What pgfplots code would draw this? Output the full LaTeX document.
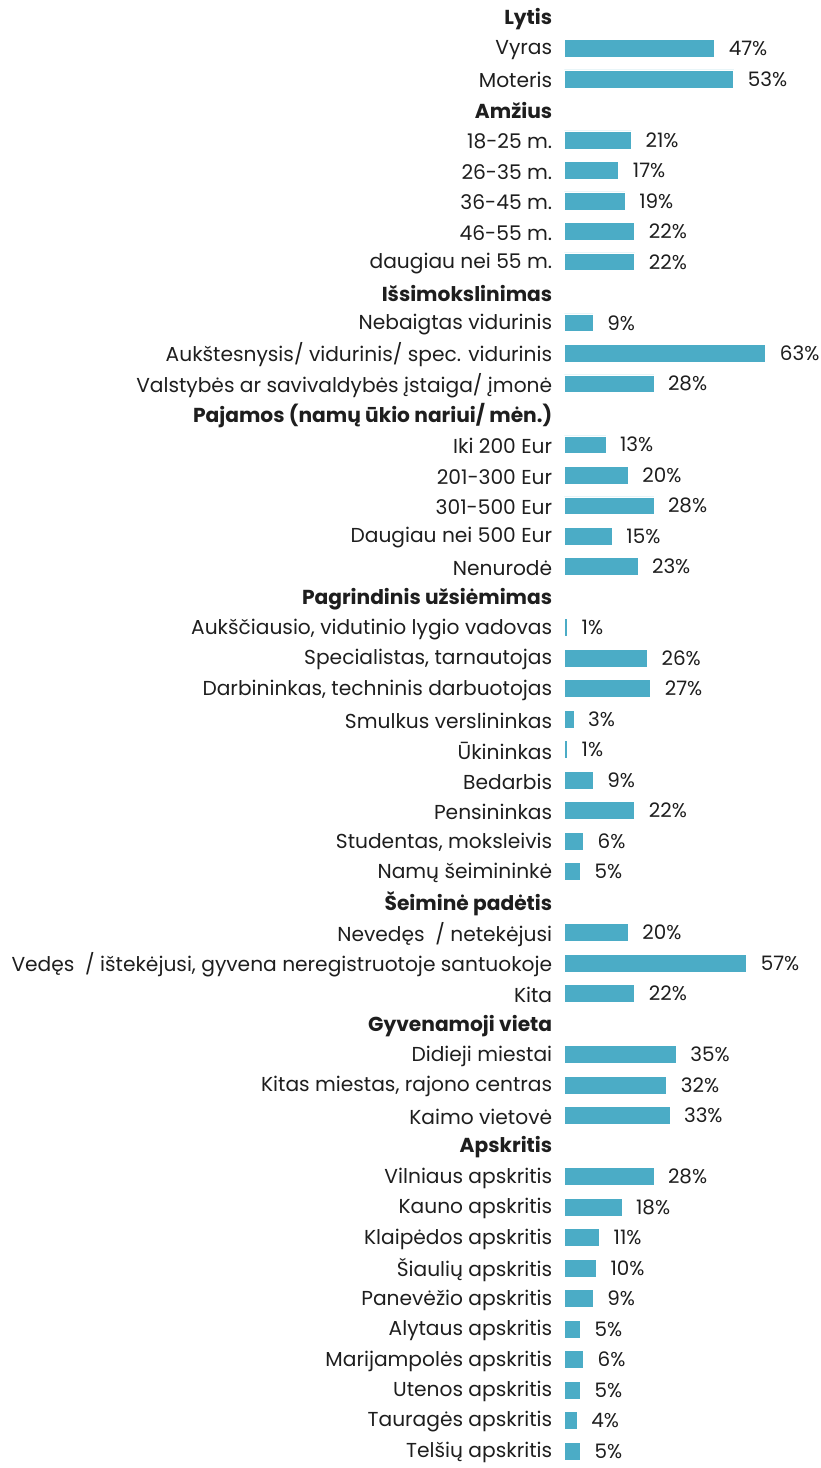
\documentclass[border=0pt]{standalone}
\usepackage{pgfplots}
\pgfplotsset{compat=1.18}
\usepackage{fontspec}
\setmainfont{Poppins}
\definecolor{barblue}{RGB}{75,172,198}
\definecolor{txt}{RGB}{30,30,30}
\begin{document}
\begin{tikzpicture}
\begin{axis}[
  scale only axis,
  width=257pt, height=1468pt,
  xmin=0, xmax=80,
  ymin=-0.587, ymax=47.33,
  y dir=reverse,
  xbar,
  axis line style={draw=none},
  tick style={draw=none},
  xtick=\empty,
  ytick={0,...,47},
  major tick length=0pt,
  /pgf/number format/assume math mode=true,
  yticklabel style={font=\fontsize{20.3}{24}\selectfont, text=txt, anchor=east, inner sep=0pt, xshift=-12pt, yshift=-1.5pt},
  yticklabels={
    {\textbf{Lytis}}, Vyras, Moteris,
    {\textbf{Amžius}}, 18-25 m., 26-35 m., 36-45 m., 46-55 m., daugiau nei 55 m.,
    {\textbf{Išsimokslinimas}}, Nebaigtas vidurinis, Aukštesnysis/ vidurinis/ spec. vidurinis, Valstybės ar savivaldybės įstaiga/ įmonė,
    {\textbf{Pajamos (namų ūkio nariui/ mėn.)}}, Iki 200 Eur, 201-300 Eur, 301-500 Eur, Daugiau nei 500 Eur, Nenurodė,
    {\textbf{Pagrindinis užsiėmimas}}, {Aukščiausio, vidutinio lygio vadovas}, {Specialistas, tarnautojas}, {Darbininkas, techninis darbuotojas}, Smulkus verslininkas, Ūkininkas, Bedarbis, Pensininkas, {Studentas, moksleivis}, Namų šeimininkė,
    {\textbf{Šeiminė padėtis}}, Nevedęs \ / netekėjusi, {Vedęs \ / ištekėjusi, gyvena neregistruotoje santuokoje}, Kita,
    {\textbf{Gyvenamoji vieta}}, Didieji miestai, {Kitas miestas, rajono centras}, Kaimo vietovė,
    {\textbf{Apskritis}}, Vilniaus apskritis, Kauno apskritis, Klaipėdos apskritis, Šiaulių apskritis, Panevėžio apskritis, Alytaus apskritis, Marijampolės apskritis, Utenos apskritis, Tauragės apskritis, Telšių apskritis
  },
  nodes near coords={\pgfmathprintnumber{\pgfplotspointmeta}\%},
  nodes near coords style={font=\fontsize{20}{24}\selectfont, text=txt, anchor=west, inner sep=0pt, xshift=14pt},
  clip=false
]
\addplot[xbar, bar width=18pt, fill=barblue, draw=white, line width=0.6pt] coordinates {
  (47,1) (53,2)
  (21,4) (17,5) (19,6) (22,7) (22,8)
  (9,10) (63,11) (28,12)
  (13,14) (20,15) (28,16) (15,17) (23,18)
  (1,20) (26,21) (27,22) (3,23) (1,24) (9,25) (22,26) (6,27) (5,28)
  (20,30) (57,31) (22,32)
  (35,34) (32,35) (33,36)
  (28,38) (18,39) (11,40) (10,41) (9,42) (5,43) (6,44) (5,45) (4,46) (5,47)
};
\end{axis}
\pgfresetboundingbox
\path[use as bounding box] ([xshift=-567pt,yshift=-7pt]current axis.south west) rectangle (current axis.north east);
\end{tikzpicture}
\end{document}
